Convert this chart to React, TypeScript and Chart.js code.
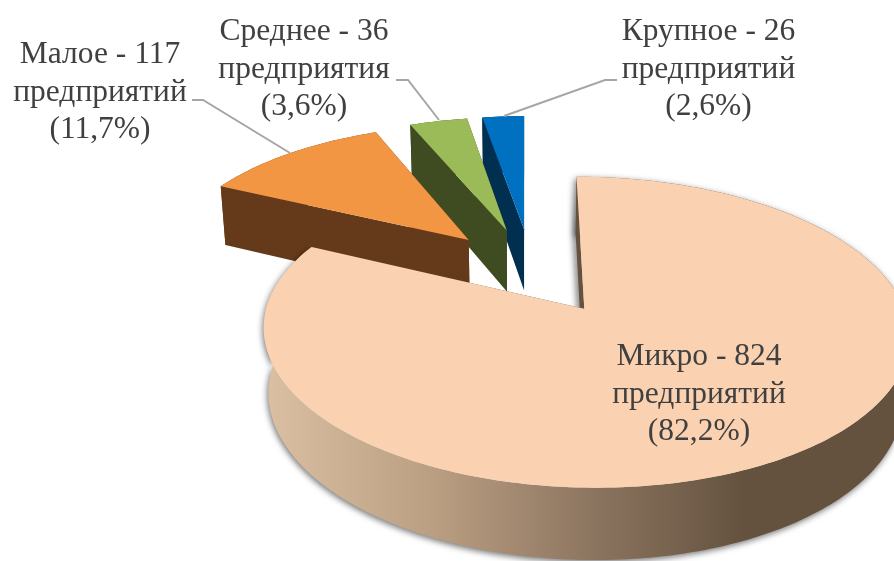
import React, { useEffect, useRef } from "react";
import { Chart, registerables } from "chart.js";

Chart.register(...registerables);

const categories = ["Микро", "Малое", "Среднее", "Крупное"];
const values = [824, 117, 36, 26];
const unitWords = ["предприятий", "предприятий", "предприятия", "предприятий"];
const percents = ["82,2%", "11,7%", "3,6%", "2,6%"];

const topColors = ["#FAD1B1", "#F39644", "#9BBB59", "#0070C0"];
const wallColors = ["#64523F", "#643A1A", "#3F4C21", "#002F50"];
const drawOrder = [3, 2, 1, 0];

// camera of the projected pie (plane -> screen)
const CAM = { x0: 525, y0: 309, R: 319, S: 152, k: 0.151, m: 0.003, c: 0.018, H: 66, cu: -0.16, cv: -0.263 };

function project(u: number, v: number, z: number): [number, number] {
  const w = 1 - CAM.k * v - CAM.m * u + CAM.c * z;
  return [CAM.x0 + (58 + CAM.R * u) / w, CAM.y0 + (CAM.S * v + CAM.H * z) / w];
}

function fillPoly(ctx: CanvasRenderingContext2D, pts: [number, number][], fill: any) {
  ctx.beginPath();
  pts.forEach((p, i) => (i ? ctx.lineTo(p[0], p[1]) : ctx.moveTo(p[0], p[1])));
  ctx.closePath();
  ctx.fillStyle = fill;
  ctx.fill();
}

const pie3d = {
  id: "pie3d",
  beforeDatasetDraw(chart: any, args: any) {
    const ctx: CanvasRenderingContext2D = chart.ctx;
    const arcs = args.meta.data;
    for (const i of drawOrder) {
      const el = arcs[i];
      const off = el.options.offset / el.outerRadius;
      const mid = (el.startAngle + el.endAngle) / 2;
      const ou = CAM.cu + Math.cos(mid) * off;
      const ov = CAM.cv + Math.sin(mid) * off;
      const steps = Math.max(8, Math.ceil((el.endAngle - el.startAngle) / 0.02));
      const rim = (z: number) => {
        const out: [number, number][] = [];
        for (let s = 0; s <= steps; s++) {
          const a = el.startAngle + ((el.endAngle - el.startAngle) * s) / steps;
          out.push(project(ou + Math.cos(a), ov + Math.sin(a), z));
        }
        return out;
      };
      const top = rim(0);
      const bottom = rim(1);
      const apexT = project(ou, ov, 0);
      const apexB = project(ou, ov, 1);

      ctx.save();
      let wallFill: any = wallColors[i];
      if (i === 0) {
        const g = ctx.createLinearGradient(262, 0, 745, 0);
        g.addColorStop(0, "#DCC0A4");
        g.addColorStop(0.35, "#BB9F83");
        g.addColorStop(0.7, "#8A735E");
        g.addColorStop(1, "#64523F");
        wallFill = g;
        ctx.shadowColor = "rgba(0,0,0,0.55)";
        ctx.shadowBlur = 6;
        ctx.shadowOffsetX = -1;
        ctx.shadowOffsetY = 2;
      }
      fillPoly(ctx, [...top, ...bottom.slice().reverse()], wallFill);
      if (i === 0) {
        ctx.shadowColor = "rgba(0,0,0,0.7)";
        ctx.shadowBlur = 6;
        ctx.shadowOffsetX = -2;
        ctx.shadowOffsetY = 0;
      }
      fillPoly(ctx, [top[0], apexT, apexB, bottom[0]], wallColors[i]);
      ctx.shadowColor = "transparent";
      ctx.shadowBlur = 0;
      ctx.shadowOffsetX = 0;
      ctx.shadowOffsetY = 0;
      fillPoly(ctx, [top[steps], apexT, apexB, bottom[steps]], wallColors[i]);
      fillPoly(ctx, [apexT, ...top], topColors[i]);
      ctx.restore();
    }
    return false;
  },
  afterDraw(chart: any) {
    const ctx: CanvasRenderingContext2D = chart.ctx;
    ctx.save();
    ctx.strokeStyle = "#A6A6A6";
    ctx.lineWidth = 2;
    const leaders = [
      [[192, 100], [203, 100], [290, 153]],
      [[396, 80], [408, 80], [439, 120]],
      [[617, 80], [605, 80], [504, 116]],
    ];
    for (const l of leaders) {
      ctx.beginPath();
      l.forEach((p, i) => (i ? ctx.lineTo(p[0], p[1]) : ctx.moveTo(p[0], p[1])));
      ctx.stroke();
    }
    ctx.fillStyle = "#404040";
    ctx.font = '31.5px "Liberation Serif"';
    ctx.textAlign = "center";
    ctx.textBaseline = "middle";
    const anchors = [
      [699, 357],
      [100, 55],
      [304, 32],
      [708.5, 32],
    ];
    categories.forEach((name, i) => {
      const [x, y] = anchors[i];
      ctx.fillText(`${name} - ${values[i]}`, x, y);
      ctx.fillText(unitWords[i], x, y + 37.5);
      ctx.fillText(`(${percents[i]})`, x, y + 75);
    });
    ctx.restore();
  },
};

export default function App() {
  const ref = useRef<HTMLCanvasElement>(null);
  useEffect(() => {
    const chart = new Chart(ref.current as HTMLCanvasElement, {
      type: "pie",
      data: {
        labels: categories,
        datasets: [{ data: values, backgroundColor: topColors, borderWidth: 0, offset: 75 }],
      },
      options: {
        responsive: false,
        animation: false,
        layout: { padding: 0 },
        plugins: { legend: { display: false }, tooltip: { enabled: false } },
      },
      plugins: [pie3d],
    } as any);
    return () => chart.destroy();
  }, []);
  return (
    <div style={{ position: "absolute", left: 0, top: 0, width: 894, height: 561, background: "#fff" }}>
      <canvas ref={ref} width={894} height={561} style={{ display: "block" }} />
    </div>
  );
}
